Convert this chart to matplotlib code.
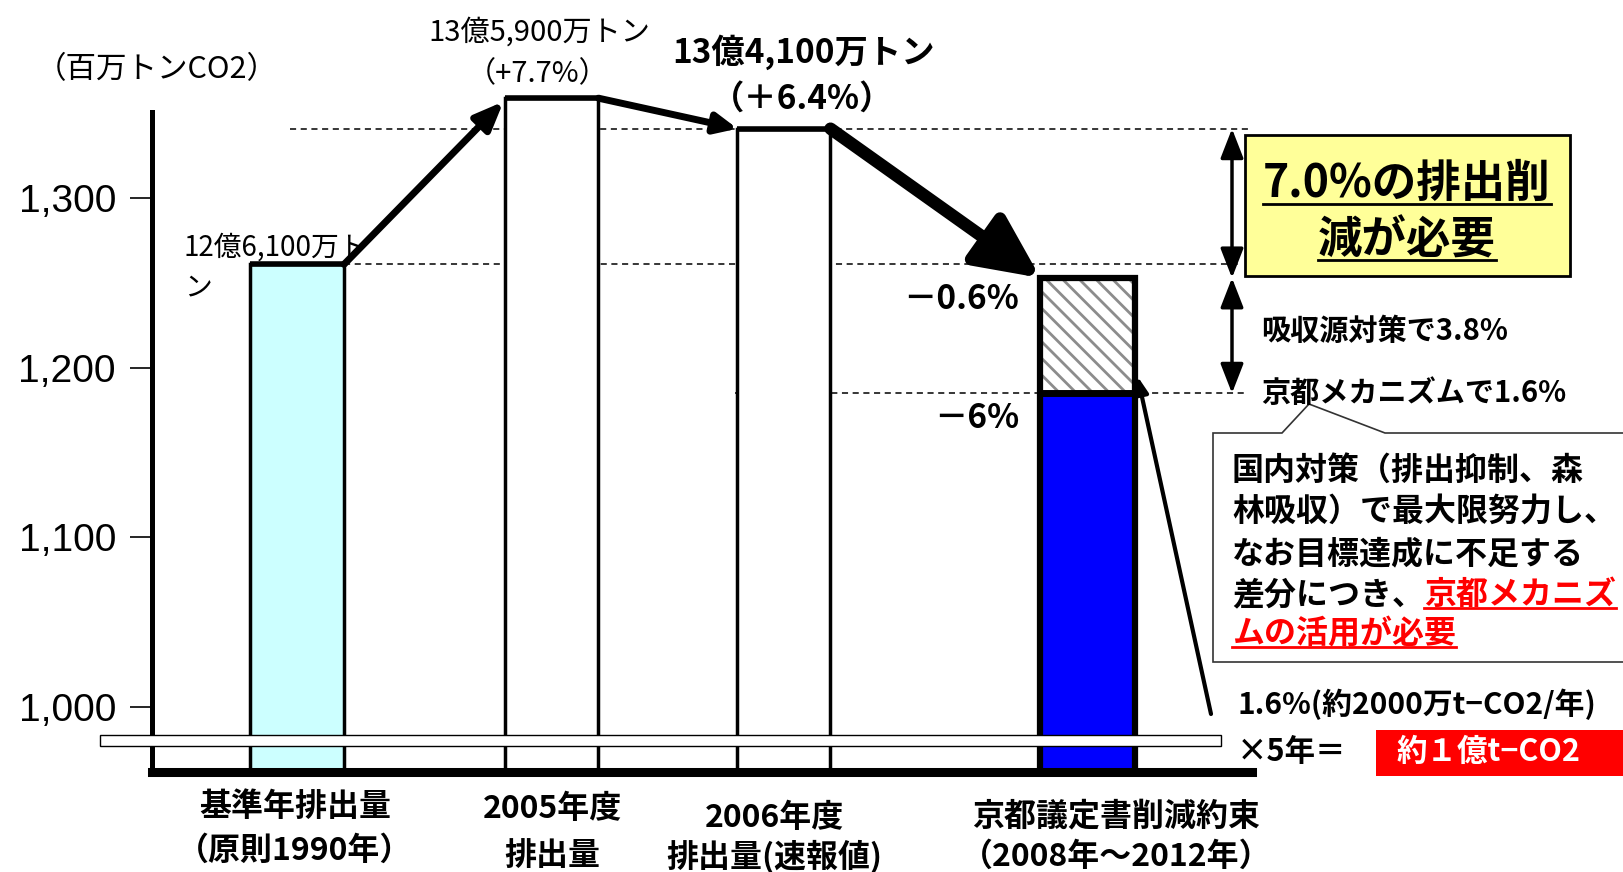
import matplotlib
matplotlib.use("Agg")
import matplotlib.pyplot as plt
from matplotlib.patches import Rectangle, Polygon, FancyArrowPatch
from matplotlib.lines import Line2D

plt.rcParams["font.family"] = ["Noto Sans CJK JP", "DejaVu Sans"]
plt.rcParams["hatch.linewidth"] = 2.0

# --- data (百万トンCO2) ---
categories = ["基準年排出量\n（原則1990年）", "2005年度\n排出量",
              "2006年度\n排出量(速報値)", "京都議定書削減約束\n（2008年～2012年）"]
emissions = [1261, 1359, 1341]      # 基準年, 2005年度, 2006年度
kyoto_domestic = 1185               # 基準年比 -6%
kyoto_total = 1253                  # 基準年比 -0.6%
value_labels = ["12億6,100万ト\nン", "13億5,900万トン", "13億4,100万トン"]
change_labels = ["", "（+7.7%）", "（＋6.4%）"]
kyoto_labels = ["－6%", "－0.6%"]
yticks = [1000, 1100, 1200, 1300]
ytick_labels = ["1,000", "1,100", "1,200", "1,300"]

W, H = 1623, 872
BLACK = "black"


def fxy(x, y):
    # pixel position from top-left -> figure fraction
    return (x / W, 1 - y / H)


fig = plt.figure(figsize=(W / 100, H / 100), dpi=100)
ax = fig.add_axes([152 / W, 1 - 772 / H, 1 - 152 / W, (772 - 40) / H])
ax.set_xlim(152, W)
ax.set_ylim(961.7, 1393.3)

for s in ["top", "right"]:
    ax.spines[s].set_visible(False)
ax.spines["left"].set_linewidth(3.6)
ax.spines["left"].set_bounds(961.7, 1350.8)
ax.spines["bottom"].set_linewidth(6.5)
ax.spines["bottom"].set_bounds(152, 1252)
ax.set_xticks([])
ax.set_yticks(yticks, ytick_labels)
ax.tick_params(axis="y", length=16, width=1.2, pad=10, labelsize=28)
for lbl in ax.get_yticklabels():
    lbl.set_family("Liberation Sans")

# bars
bar_x = [297, 552, 784, 1088]
bar_w = [94, 93, 93, 95]
bar_fill = ["#CCFFFF", "white", "white"]
for x, w, v, c in zip(bar_x[:3], bar_w[:3], emissions, bar_fill):
    ax.bar(x, v, w, color=c, edgecolor=BLACK, linewidth=2.5, zorder=2)
    ax.hlines(v, x - w / 2, x + w / 2, color=BLACK, lw=4, zorder=3)

kx, kw = bar_x[3], bar_w[3]
ax.bar(kx, kyoto_domestic, kw, color="#0000FF", linewidth=0, zorder=2)
ax.bar(kx, kyoto_total - kyoto_domestic, kw, bottom=kyoto_domestic, color="white",
       edgecolor="#8c8c8c", hatch="\\\\", linewidth=0, zorder=2)
ax.bar(kx, kyoto_total, kw, fill=False, edgecolor=BLACK, linewidth=4.5, zorder=3)
ax.hlines(kyoto_domestic, kx - kw / 2, kx + kw / 2, color=BLACK, lw=5, zorder=3)

# reference lines
dash = (0, (4, 3))
ax.hlines(emissions[2], 290, 1252, color=BLACK, lw=1.1, linestyles=dash, zorder=1)
ax.hlines(emissions[0], 344, 1242, color=BLACK, lw=1.1, linestyles=dash, zorder=1)
ax.hlines(kyoto_domestic, 735, 1247, color=BLACK, lw=1.1, linestyles=dash, zorder=1)


def arrow(p0, p1, lw, hl, hw, style="-|>"):
    ax.add_patch(FancyArrowPatch(p0, p1, arrowstyle=f"{style},head_length={hl},head_width={hw}",
                                 mutation_scale=1, lw=lw, color=BLACK, shrinkA=0, shrinkB=0,
                                 clip_on=False, zorder=5))


arrow((bar_x[0] + bar_w[0] / 2, emissions[0]), (bar_x[1] - bar_w[1] / 2 - 2, emissions[1] - 2), 5, 17, 7)
arrow((bar_x[1] + bar_w[1] / 2, emissions[1]), (bar_x[2] - bar_w[2] / 2, emissions[2]), 5, 13, 6)
arrow((bar_x[2] + bar_w[2] / 2, emissions[2]), (kx - kw / 2, kyoto_total), 9, 38, 18)

# vertical double arrows
arrow((1232, emissions[2]), (1232, kyoto_total), 2.5, 18, 7, "<|-|>")
arrow((1232, kyoto_total), (1232, kyoto_domestic), 2.5, 18, 7, "<|-|>")

# leader from the 1.6% note up to the Kyoto bar
start = ax.transData.inverted().transform((1211, H - 714))
arrow(tuple(start), (kx + kw / 2 + 2, kyoto_domestic + 10), 3, 10, 4)

# value labels
ax.annotate(value_labels[0], (184, emissions[0]), xytext=(0, 32), textcoords="offset pixels",
            ha="left", va="top", fontsize=20, linespacing=1.45, zorder=6)
ax.annotate(value_labels[1], (539, emissions[1]), xytext=(0, 66), textcoords="offset pixels",
            ha="center", va="center", fontsize=21)
ax.annotate(change_labels[1], (538, emissions[1]), xytext=(0, 24), textcoords="offset pixels",
            ha="center", va="center", fontsize=21)
ax.annotate(value_labels[2], (804, emissions[2]), xytext=(0, 77), textcoords="offset pixels",
            ha="center", va="center", fontsize=24, fontweight="bold")
ax.annotate(change_labels[2], (802, emissions[2]), xytext=(0, 30), textcoords="offset pixels",
            ha="center", va="center", fontsize=24, fontweight="bold")
ax.annotate(kyoto_labels[1], (1019, kyoto_total), xytext=(0, -22), textcoords="offset pixels",
            ha="right", va="center", fontsize=24, fontweight="bold")
ax.annotate(kyoto_labels[0], (1019, kyoto_domestic), xytext=(0, -25), textcoords="offset pixels",
            ha="right", va="center", fontsize=24, fontweight="bold")

fig.text(*fxy(36, 70), "（百万トンCO2）", ha="left", va="center", fontsize=22)

# category labels
cat_x = [295, 552, 774, 1116]
cat_y = [(807, 851), (809, 856), (818, 857), (816, 857)]
for name, x, ys in zip(categories, cat_x, cat_y):
    for line, y in zip(name.split("\n"), ys):
        fig.text(*fxy(x, y), line, ha="center", va="center", fontsize=23, fontweight="bold")

# axis break band
fig.add_artist(Rectangle(fxy(100, 746), 1121 / W, 11 / H, transform=fig.transFigure,
                         facecolor="white", edgecolor=BLACK, lw=1, zorder=10))

# yellow box
fig.add_artist(Rectangle(fxy(1245, 276), 325 / W, 141 / H, transform=fig.transFigure,
                         facecolor="#FFFF99", edgecolor=BLACK, lw=2, zorder=10))
underlined = []
for line, y in zip(["7.0%の排出削", "減が必要"], [184, 240]):
    t = fig.text(*fxy(1407, y), line, ha="center", va="center", fontsize=32,
                 fontweight="bold", zorder=11)
    underlined.append((t, BLACK))

fig.text(*fxy(1261, 331), "吸収源対策で3.8%", ha="left", va="center", fontsize=21,
         fontweight="bold", zorder=11)
fig.text(*fxy(1261, 393), "京都メカニズムで1.6%", ha="left", va="center", fontsize=21,
         fontweight="bold", zorder=11)

# callout
callout = [(1213, 433), (1282, 433), (1309, 404), (1385, 433), (1630, 433),
           (1630, 662), (1213, 662)]
fig.add_artist(Polygon([fxy(x, y) for x, y in callout], closed=True, transform=fig.transFigure,
                       facecolor="white", edgecolor="#333333", lw=1.2, zorder=10))
callout_lines = ["国内対策（排出抑制、森", "林吸収）で最大限努力し、", "なお目標達成に不足する"]
for line, y in zip(callout_lines, [471, 512, 554]):
    fig.text(*fxy(1232, y), line, ha="left", va="center", fontsize=23, fontweight="bold", zorder=11)
renderer = fig.canvas.get_renderer()
t4 = fig.text(*fxy(1232, 595), "差分につき、", ha="left", va="center", fontsize=23,
              fontweight="bold", zorder=11)
x_end = t4.get_window_extent(renderer).x1
t5 = fig.text(x_end / W, 1 - 595 / H, "京都メカニズ", ha="left", va="center", fontsize=23,
              fontweight="bold", color="#FF0000", zorder=11)
t6 = fig.text(*fxy(1232, 634), "ムの活用が必要", ha="left", va="center", fontsize=23,
              fontweight="bold", color="#FF0000", zorder=11)
underlined += [(t5, "#FF0000"), (t6, "#FF0000")]

fig.text(*fxy(1237, 704), "1.6%(約2000万t−CO2/年)", ha="left", va="center", fontsize=21.5,
         fontweight="bold", zorder=11)
fig.text(*fxy(1237, 752), "×5年＝", ha="left", va="center", fontsize=22,
         fontweight="bold", zorder=11)
fig.add_artist(Rectangle(fxy(1376, 776), 250 / W, 46 / H, transform=fig.transFigure,
                         facecolor="#FF0000", edgecolor="none", zorder=10))
fig.text(*fxy(1488, 752), "約１億t−CO2", ha="center", va="center", fontsize=22,
         fontweight="bold", color="white", zorder=11)

# underlines
fig.canvas.draw()
renderer = fig.canvas.get_renderer()
for t, c in underlined:
    bb = t.get_window_extent(renderer)
    y = (bb.y0 + 3) / H
    fig.add_artist(Line2D([bb.x0 / W, bb.x1 / W], [y, y], transform=fig.transFigure,
                          color=c, lw=2, zorder=12))

fig.savefig("out.png", dpi=100)
